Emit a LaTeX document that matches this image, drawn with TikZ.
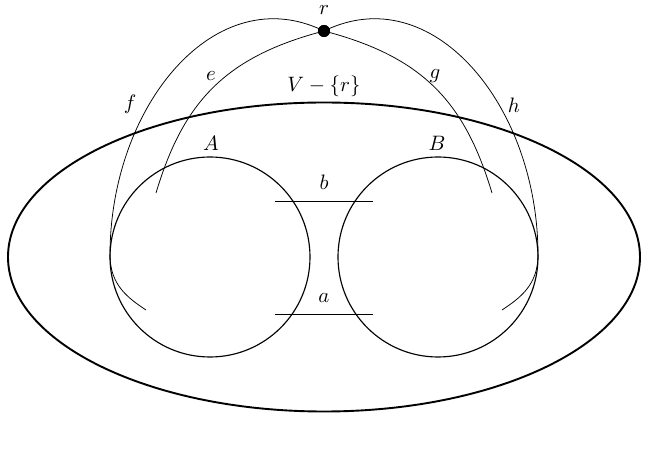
\documentclass[tikz,border=0pt]{standalone}
\usetikzlibrary{shapes.geometric}
\begin{document}
\begin{tikzpicture}[x=0.525pt,y=-0.525pt,
  font=\fontsize{11}{13}\selectfont,
  setline/.style={line width=1pt},
  part/.style={line width=0.6pt},
  edgeline/.style={line width=0.4pt},
  lbl/.style={inner sep=0pt},
  vertex/.style={circle,fill=black,inner sep=0pt,minimum size=6.3pt}]
\useasboundingbox (0,0) rectangle (648,462);
% big ellipse
\node[setline,draw,ellipse,minimum width=632*0.525pt,minimum height=309*0.525pt,inner sep=0pt] (V) at (324,257) {};
% circles
\node[part,draw,circle,minimum size=200*0.525pt,inner sep=0pt] (A) at (210,257) {};
\node[part,draw,circle,minimum size=200*0.525pt,inner sep=0pt] (B) at (438,257) {};
% vertex r
\node[vertex] (r) at (324,31) {};
\node[lbl] (rl) at (324,10) {$r$};
\node[lbl] (Vl) at (324,86) {$V-\{r\}$};
\node[lbl] (Al) at (211,143) {$A$};
\node[lbl] (Bl) at (437,143) {$B$};
% edges a and b
\coordinate (b1) at (275,201);
\coordinate (b2) at (373,201);
\coordinate (a1) at (275,314);
\coordinate (a2) at (373,314);
\draw[edgeline] (b1) -- node[lbl,above=6pt] (bl) {$b$} (b2);
\draw[edgeline] (a1) -- node[lbl,above=6pt] (al) {$a$} (a2);
% curves
\coordinate (eend) at (156,193);
\coordinate (gend) at (492,193);
\coordinate (fl) at (110,255);
\coordinate (fend) at (146,310);
\coordinate (hr) at (538,255);
\coordinate (hend) at (502,310);
\draw[edgeline] (r.center) .. controls (224,57) and (183,103) .. (eend);
\draw[edgeline] (r.center) .. controls (424,57) and (465,103) .. (gend);
\draw[edgeline] (r.center) .. controls (216,-22) and (110,105) .. (fl)
   .. controls (110,285) and (128,298) .. (fend);
\draw[edgeline] (r.center) .. controls (432,-22) and (538,105) .. (hr)
   .. controls (538,285) and (520,298) .. (hend);
\node[vertex] at (r) {};
\node[lbl] (el) at (211,76) {$e$};
\node[lbl] (fl2) at (130,104) {$f$};
\node[lbl] (gl) at (435,76) {$g$};
\node[lbl] (hl) at (514,105) {$h$};
\end{tikzpicture}
\end{document}
